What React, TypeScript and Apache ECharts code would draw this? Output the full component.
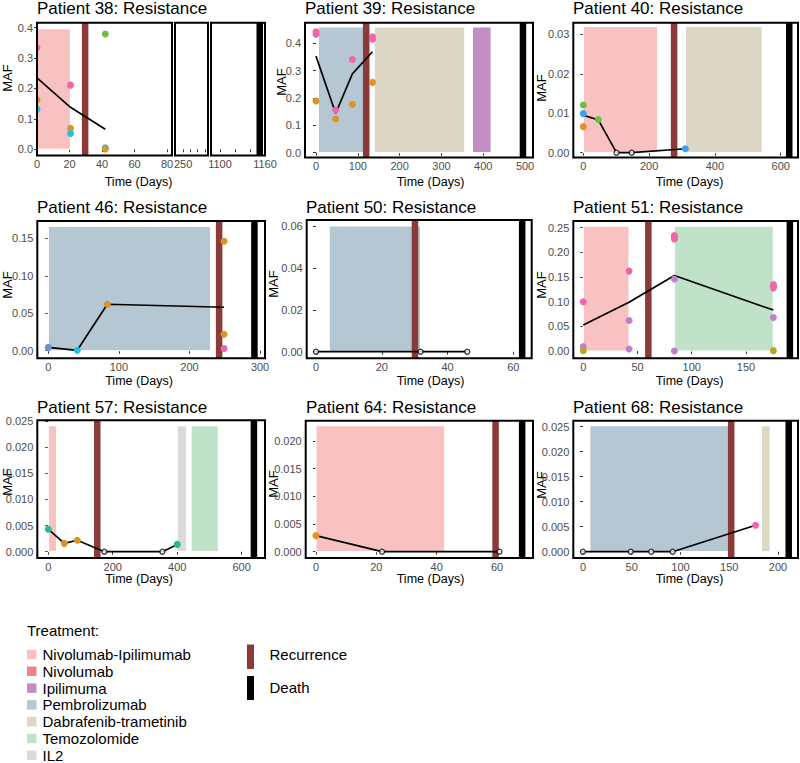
import React, { useEffect, useRef } from 'react';
import * as echarts from 'echarts';

const FONT = '"Liberation Sans", Arial, Helvetica, sans-serif';

// ---------- shared categories ----------
const TREATMENTS = ['Nivolumab-Ipilimumab', 'Nivolumab', 'Ipilimuma', 'Pembrolizumab', 'Dabrafenib-trametinib', 'Temozolomide', 'IL2'];
const TREATMENT_COLORS = ['#F8C2C3', '#F08384', '#C38DC4', '#B5C7D3', '#DDD8C6', '#BFE2C9', '#DADADA'];
const RECURRENCE_COLOR = '#8B3A3A';
const DEATH_COLOR = '#000000';
const DOT_KEYS = ['pink', 'orange', 'cyan', 'green', 'blue', 'cornflower', 'teal', 'purple', 'olive'];
const DOT_COLORS = ['#F066AC', '#DE9424', '#1FC3E0', '#6DBE45', '#3FA2E8', '#6F8FD6', '#21BC8F', '#C27FCB', '#B5A727'];
const TITLES = ['Patient 38: Resistance', 'Patient 39: Resistance', 'Patient 40: Resistance', 'Patient 46: Resistance',
  'Patient 50: Resistance', 'Patient 51: Resistance', 'Patient 57: Resistance', 'Patient 64: Resistance', 'Patient 68: Resistance'];

// ---------- Patient 38 (broken x axis) ----------
const p38Treat = [[0, 20.6, 0.397, 0]]; // start, end, top, treatment
const p38Events = [[29.6, 0]];           // day, 0 = recurrence / 1 = death
const p38DeathEvents = [[1153, 1]];
const p38Points: [number, number, string][] = [
  [0, 0.334, 'pink'], [0, 0.162, 'orange'], [0, 0.132, 'cyan'],
  [20.6, 0.211, 'pink'], [20.6, 0.069, 'orange'], [20.6, 0.052, 'cyan'],
  [42, 0.379, 'green'], [42, 0.005, 'cyan'], [42, 0.001, 'orange'],
];
const p38Line = [[0, 0.235], [20.6, 0.138], [42, 0.066]];
const p38Hollow: number[][] = [];
const p38XRange = [0, 83], p38bXRange = [239, 284], p38cXRange = [1088, 1160];
const p38YRange = [-0.0204, 0.4164];
const p38XTicks = [0, 20, 40, 60, 80], p38bXTicks = [250, 260, 270, 280], p38bXLabels = [250];
const p38cXTicks = [1100, 1120, 1140, 1160], p38cXLabels = [1100, 1160];
const p38YTicks = [0, 0.1, 0.2, 0.3, 0.4];

// ---------- Patient 39 ----------
const p39Treat = [[5.5, 129, 0.46, 3], [139, 356, 0.46, 4], [374, 419, 0.46, 2]];
const p39Events = [[120, 0], [495, 1]];
const p39Points: [number, number, string][] = [
  [0, 0.442, 'pink'], [0, 0.433, 'pink'], [0, 0.189, 'orange'],
  [47, 0.156, 'pink'], [47, 0.123, 'orange'],
  [87, 0.341, 'pink'], [87, 0.177, 'orange'],
  [135, 0.424, 'pink'], [135, 0.415, 'pink'], [135, 0.257, 'orange'],
];
const p39Line = [[0, 0.353], [47, 0.144], [87, 0.288], [135, 0.369]];
const p39Hollow: number[][] = [];
const p39XRange = [-26.3, 519], p39YRange = [-0.0176, 0.4753];
const p39XTicks = [0, 100, 200, 300, 400, 500], p39YTicks = [0, 0.1, 0.2, 0.3, 0.4];

// ---------- Patient 40 ----------
const p40Treat = [[0, 226, 0.032, 0], [310, 544, 0.032, 4]];
const p40Events = [[276, 0], [626, 1]];
const p40Points: [number, number, string][] = [
  [0, 0.0121, 'green'], [0, 0.0099, 'blue'], [0, 0.0066, 'orange'],
  [45.6, 0.0084, 'green'], [310, 0.001, 'blue'],
];
const p40Line = [[0, 0.0095], [45.6, 0.0083], [101, 0], [147, 0], [310, 0.001]];
const p40Hollow = [[101, 0], [147, 0]];
const p40XRange = [-30.4, 652.6], p40YRange = [-0.00122, 0.03294];
const p40XTicks = [0, 200, 400, 600], p40YTicks = [0, 0.01, 0.02, 0.03];

// ---------- Patient 46 ----------
const p46Treat = [[0, 230, 0.166, 3]];
const p46Events = [[242, 0], [292, 1]];
const p46Points: [number, number, string][] = [
  [0, 0.0045, 'cornflower'], [41, 0.0006, 'cyan'], [83.6, 0.062, 'orange'],
  [249, 0.146, 'orange'], [249, 0.022, 'orange'], [249, 0.003, 'pink'],
];
const p46Line = [[0, 0.0045], [41, 0.0006], [83.6, 0.062], [249, 0.058]];
const p46Hollow: number[][] = [];
const p46XRange = [-15.6, 307], p46YRange = [-0.0101, 0.1731];
const p46XTicks = [0, 100, 200, 300], p46YTicks = [0, 0.05, 0.1, 0.15];

// ---------- Patient 50 ----------
const p50Treat = [[4, 31.8, 0.06, 3]];
const p50Events = [[30.1, 0], [62.7, 1]];
const p50Points: [number, number, string][] = [];
const p50Line = [[0, 0], [31.8, 0], [46, 0]];
const p50Hollow = [[0, 0], [31.8, 0], [46, 0]];
const p50XRange = [-2.83, 65.6], p50YRange = [-0.00315, 0.06286];
const p50XTicks = [0, 20, 40, 60], p50YTicks = [0, 0.02, 0.04, 0.06];

// ---------- Patient 51 ----------
const p51Treat = [[0, 42.2, 0.2534, 0], [84, 175.3, 0.2534, 5]];
const p51Events = [[60, 0], [190.5, 1]];
const p51Points: [number, number, string][] = [
  [0, 0.1, 'pink'], [0, 0.0088, 'purple'], [0, 0.0007, 'olive'],
  [42.2, 0.162, 'pink'], [42.2, 0.062, 'purple'], [42.2, 0.004, 'purple'],
  [84, 0.234, 'pink'], [84, 0.23, 'pink'], [84, 0.227, 'pink'], [84, 0.146, 'purple'], [84, 0.0, 'purple'],
  [175.3, 0.135, 'pink'], [175.3, 0.132, 'pink'], [175.3, 0.128, 'pink'], [175.3, 0.068, 'purple'], [175.3, 0.0007, 'olive'],
];
const p51Line = [[0, 0.0527], [42.2, 0.0987], [84, 0.153], [175.3, 0.083]];
const p51Hollow: number[][] = [];
const p51XRange = [-9.2, 198], p51YRange = [-0.0148, 0.2636];
const p51XTicks = [0, 50, 100, 150], p51YTicks = [0, 0.05, 0.1, 0.15, 0.2, 0.25];

// ---------- Patient 57 ----------
const p57Treat = [[0, 26, 0.0241, 0], [400, 429, 0.0241, 6], [443, 528, 0.0241, 5]];
const p57Events = [[152, 0], [638, 1]];
const p57Points: [number, number, string][] = [
  [0, 0.0043, 'teal'], [49.6, 0.0016, 'orange'], [90, 0.0022, 'orange'], [400, 0.0014, 'teal'],
];
const p57Line = [[0, 0.0043], [49.6, 0.0016], [90, 0.0022], [174, 0], [354, 0], [400, 0.0014]];
const p57Hollow = [[174, 0], [354, 0]];
const p57XRange = [-34.1, 672.4], p57YRange = [-0.0012, 0.02513];
const p57XTicks = [0, 200, 400, 600], p57YTicks = [0, 0.005, 0.01, 0.015, 0.02, 0.025];

// ---------- Patient 64 ----------
const p64Treat = [[0, 42.7, 0.02277, 0]];
const p64Events = [[59.5, 0], [68.3, 1]];
const p64Points: [number, number, string][] = [[0, 0.0029, 'orange']];
const p64Line = [[0, 0.0029], [21.9, 0], [60.8, 0]];
const p64Hollow = [[21.9, 0], [60.8, 0]];
const p64XRange = [-3.4, 71.9], p64YRange = [-0.00114, 0.02367];
const p64XTicks = [0, 20, 40, 60], p64YTicks = [0, 0.005, 0.01, 0.015, 0.02];

// ---------- Patient 68 ----------
const p68Treat = [[7, 150, 0.0252, 3], [183, 192, 0.0252, 4]];
const p68Events = [[152, 0], [211, 1]];
const p68Points: [number, number, string][] = [[177, 0.0053, 'pink']];
const p68Line = [[0, 0], [49, 0], [70, 0], [92, 0], [177, 0.0053]];
const p68Hollow = [[0, 0], [49, 0], [70, 0], [92, 0]];
const p68XRange = [-9.9, 220.5], p68YRange = [-0.00126, 0.0262];
const p68XTicks = [0, 50, 100, 150, 200], p68YTicks = [0, 0.005, 0.01, 0.015, 0.02, 0.025];

// ---------- layout ----------
const GRIDS = [
  { left: 37, top: 22.7, width: 135, height: 132.8 },
  { left: 175, top: 22.7, width: 33, height: 132.8 },
  { left: 211, top: 22.7, width: 54, height: 132.8 },
  { left: 305, top: 22.7, width: 228, height: 134.8 },
  { left: 573.3, top: 22.7, width: 224.7, height: 134.8 },
  { left: 37.3, top: 221, width: 227.7, height: 137.3 },
  { left: 306.7, top: 220, width: 225, height: 138.3 },
  { left: 573.3, top: 221, width: 224.7, height: 137.3 },
  { left: 37.3, top: 420.3, width: 227.7, height: 137.7 },
  { left: 305.7, top: 420.7, width: 227.3, height: 137.3 },
  { left: 573.3, top: 420.7, width: 224.7, height: 137.3 },
];
const TITLE_POS = [[37, 8.5], [305, 8.5], [573, 8.5], [37, 207], [306, 207], [573, 207], [37, 407], [306, 407], [573, 407]];
const MAF_POS = [[7.5, 78], [281, 82], [541, 88], [7.5, 285], [273, 284], [541, 285], [7, 482], [273, 484], [541, 485]];
const TIME_POS = [[138.5, 181.5], [430.5, 181.5], [689.5, 181.5], [139, 380.5], [430.5, 380.5], [689.5, 380.5], [139, 579], [430.5, 579], [689.5, 579]];

const renderTreatment = (params: any, api: any) => {
  const p1 = api.coord([api.value(0), 0]);
  const p2 = api.coord([api.value(1), api.value(2)]);
  return {
    type: 'rect',
    shape: { x: p1[0], y: p2[1], width: p2[0] - p1[0], height: p1[1] - p2[1] },
    style: { fill: TREATMENT_COLORS[api.value(3)], stroke: '#ffffff', lineWidth: 1.2 },
  };
};
const renderEvent = (params: any, api: any) => {
  const cs = params.coordSys;
  const x = api.coord([api.value(0), 0])[0];
  const w = 6.5;
  return {
    type: 'rect',
    shape: { x: x - w / 2, y: cs.y, width: w, height: cs.height },
    style: { fill: api.value(1) === 0 ? RECURRENCE_COLOR : DEATH_COLOR },
  };
};
const renderDot = (params: any, api: any) => {
  const p = api.coord([api.value(0), api.value(1)]);
  return { type: 'circle', shape: { cx: p[0], cy: p[1], r: 3.5 }, style: { fill: DOT_COLORS[api.value(2)] } };
};

function panelSeries(gi: number, treat: number[][], events: number[][], points: [number, number, string][], line: number[][], hollow: number[][]) {
  const s: any[] = [];
  if (treat.length) s.push({ type: 'custom', xAxisIndex: gi, yAxisIndex: gi, data: treat, renderItem: renderTreatment, encode: { x: [0, 1], y: 2 }, z: 1, silent: true });
  if (events.length) s.push({ type: 'custom', xAxisIndex: gi, yAxisIndex: gi, data: events, renderItem: renderEvent, encode: { x: 0 }, z: 2, silent: true });
  if (line.length) s.push({ type: 'line', xAxisIndex: gi, yAxisIndex: gi, data: line, showSymbol: false, lineStyle: { color: '#000', width: 1.7 }, z: 3, silent: true });
  if (hollow.length) s.push({ type: 'scatter', xAxisIndex: gi, yAxisIndex: gi, data: hollow, symbolSize: 5, itemStyle: { color: '#fff', borderColor: '#000', borderWidth: 1.3 }, z: 4, silent: true });
  if (points.length) s.push({
    type: 'custom', xAxisIndex: gi, yAxisIndex: gi, z: 5, silent: true, clip: true,
    renderItem: renderDot, encode: { x: 0, y: 1 },
    data: points.map((p) => [p[0], p[1], DOT_KEYS.indexOf(p[2])]),
  });
  return s;
}

function xAxis(gi: number, range: number[], ticks: number[], labels: number[]) {
  return {
    type: 'value', gridIndex: gi, min: range[0], max: range[1],
    axisLine: { show: false }, splitLine: { show: false },
    axisTick: { show: true, length: 3, customValues: ticks, lineStyle: { color: '#333', width: 1 } },
    axisLabel: { customValues: labels, formatter: (v: number) => String(Math.round(v)), fontSize: 11, color: '#4D4D4D', margin: 3, fontFamily: FONT },
  };
}
function yAxis(gi: number, range: number[], ticks: number[], dec: number, show = true) {
  return {
    type: 'value', gridIndex: gi, min: range[0], max: range[1],
    axisLine: { show: false }, splitLine: { show: false },
    axisTick: { show, length: 3, customValues: ticks, lineStyle: { color: '#333', width: 1 } },
    axisLabel: { show, customValues: ticks, formatter: (v: number) => v.toFixed(dec), fontSize: 11, color: '#4D4D4D', margin: 4, fontFamily: FONT },
  };
}

export default function App() {
  const ref = useRef<HTMLDivElement>(null);
  useEffect(() => {
    if (!ref.current) return;
    const chart = echarts.init(ref.current, null, { renderer: 'svg' });
    const grids = GRIDS.map((g) => ({ ...g, show: true, borderColor: '#000', borderWidth: 2, backgroundColor: 'transparent', z: 8 }));
    const xAxes = [
      xAxis(0, p38XRange, p38XTicks, p38XTicks),
      xAxis(1, p38bXRange, p38bXTicks, p38bXLabels),
      xAxis(2, p38cXRange, p38cXTicks, p38cXLabels),
      xAxis(3, p39XRange, p39XTicks, p39XTicks),
      xAxis(4, p40XRange, p40XTicks, p40XTicks),
      xAxis(5, p46XRange, p46XTicks, p46XTicks),
      xAxis(6, p50XRange, p50XTicks, p50XTicks),
      xAxis(7, p51XRange, p51XTicks, p51XTicks),
      xAxis(8, p57XRange, p57XTicks, p57XTicks),
      xAxis(9, p64XRange, p64XTicks, p64XTicks),
      xAxis(10, p68XRange, p68XTicks, p68XTicks),
    ];
    const yAxes = [
      yAxis(0, p38YRange, p38YTicks, 1),
      yAxis(1, p38YRange, p38YTicks, 1, false),
      yAxis(2, p38YRange, p38YTicks, 1, false),
      yAxis(3, p39YRange, p39YTicks, 1),
      yAxis(4, p40YRange, p40YTicks, 2),
      yAxis(5, p46YRange, p46YTicks, 2),
      yAxis(6, p50YRange, p50YTicks, 2),
      yAxis(7, p51YRange, p51YTicks, 2),
      yAxis(8, p57YRange, p57YTicks, 3),
      yAxis(9, p64YRange, p64YTicks, 3),
      yAxis(10, p68YRange, p68YTicks, 3),
    ];
    const series = [
      ...panelSeries(0, p38Treat, p38Events, p38Points, p38Line, p38Hollow),
      ...panelSeries(2, [], p38DeathEvents, [], [], []),
      ...panelSeries(3, p39Treat, p39Events, p39Points, p39Line, p39Hollow),
      ...panelSeries(4, p40Treat, p40Events, p40Points, p40Line, p40Hollow),
      ...panelSeries(5, p46Treat, p46Events, p46Points, p46Line, p46Hollow),
      ...panelSeries(6, p50Treat, p50Events, p50Points, p50Line, p50Hollow),
      ...panelSeries(7, p51Treat, p51Events, p51Points, p51Line, p51Hollow),
      ...panelSeries(8, p57Treat, p57Events, p57Points, p57Line, p57Hollow),
      ...panelSeries(9, p64Treat, p64Events, p64Points, p64Line, p64Hollow),
      ...panelSeries(10, p68Treat, p68Events, p68Points, p68Line, p68Hollow),
    ];
    const graphic: any[] = [];
    TITLES.forEach((t, i) => {
      graphic.push({ type: 'text', x: TITLE_POS[i][0], y: TITLE_POS[i][1], silent: true,
        style: { text: t, fontSize: 17, fontFamily: FONT, fill: '#000', align: 'left', verticalAlign: 'middle' } });
      graphic.push({ type: 'text', x: MAF_POS[i][0], y: MAF_POS[i][1], rotation: Math.PI / 2, silent: true,
        style: { text: 'MAF', fontSize: 13, fontFamily: FONT, fill: '#000', align: 'center', verticalAlign: 'middle' } });
      graphic.push({ type: 'text', x: TIME_POS[i][0], y: TIME_POS[i][1], silent: true,
        style: { text: 'Time (Days)', fontSize: 12.5, fontFamily: FONT, fill: '#000', align: 'center', verticalAlign: 'middle' } });
    });
    graphic.push({ type: 'text', x: 27, y: 630, silent: true,
      style: { text: 'Treatment:', fontSize: 15, fontFamily: FONT, fill: '#000', align: 'left', verticalAlign: 'middle' } });
    TREATMENTS.forEach((t, i) => {
      const cy = 654.5 + i * 16.8;
      graphic.push({ type: 'rect', silent: true, shape: { x: 27, y: cy - 4.75, width: 9.5, height: 9.5 }, style: { fill: TREATMENT_COLORS[i] } });
      graphic.push({ type: 'text', x: 42.5, y: cy, silent: true,
        style: { text: t, fontSize: 15, fontFamily: FONT, fill: '#000', align: 'left', verticalAlign: 'middle' } });
    });
    graphic.push({ type: 'rect', silent: true, shape: { x: 247, y: 644.5, width: 7, height: 24.5 }, style: { fill: RECURRENCE_COLOR } });
    graphic.push({ type: 'text', x: 269.5, y: 654.5, silent: true,
      style: { text: 'Recurrence', fontSize: 15, fontFamily: FONT, fill: '#000', align: 'left', verticalAlign: 'middle' } });
    graphic.push({ type: 'rect', silent: true, shape: { x: 247, y: 676, width: 7, height: 24 }, style: { fill: DEATH_COLOR } });
    graphic.push({ type: 'text', x: 269.5, y: 687, silent: true,
      style: { text: 'Death', fontSize: 15, fontFamily: FONT, fill: '#000', align: 'left', verticalAlign: 'middle' } });

    chart.setOption({
      animation: false,
      backgroundColor: '#ffffff',
      grid: grids,
      xAxis: xAxes,
      yAxis: yAxes,
      series,
      graphic,
    });
    return () => chart.dispose();
  }, []);
  return <div ref={ref} style={{ position: 'fixed', left: 0, top: 0, width: 800, height: 763 }} />;
}
